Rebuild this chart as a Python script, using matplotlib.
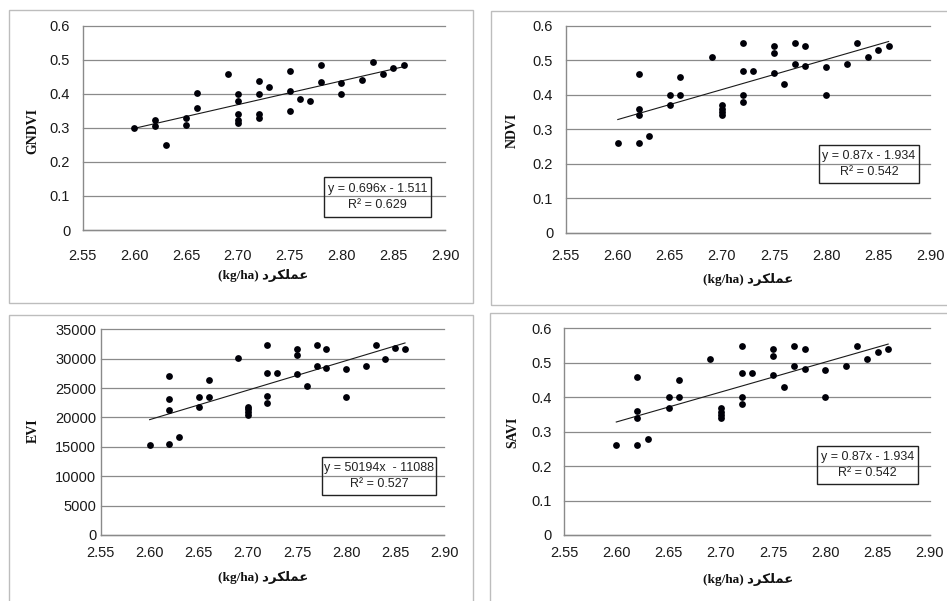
import matplotlib
matplotlib.use('Agg')
import matplotlib.pyplot as plt
from matplotlib.patches import Rectangle
import numpy as np

W, H = 947, 601

# ---------------- data ----------------
x_ticks = [2.55, 2.60, 2.65, 2.70, 2.75, 2.80, 2.85, 2.90]

yield_gndvi = [2.60, 2.62, 2.62, 2.63, 2.65, 2.65, 2.66, 2.66, 2.69,
               2.70, 2.70, 2.70, 2.70, 2.70, 2.72, 2.72, 2.72, 2.72, 2.73,
               2.75, 2.75, 2.75, 2.76, 2.77, 2.78, 2.78, 2.80, 2.80, 2.82,
               2.83, 2.84, 2.85, 2.86]
gndvi = [0.300, 0.323, 0.306, 0.250, 0.329, 0.308, 0.402, 0.358, 0.458,
         0.400, 0.378, 0.340, 0.323, 0.313, 0.438, 0.400, 0.342, 0.328, 0.421,
         0.466, 0.409, 0.349, 0.386, 0.378, 0.486, 0.434, 0.431, 0.400, 0.440,
         0.493, 0.458, 0.476, 0.486]

yield_vi = [2.60, 2.62, 2.62, 2.62, 2.62, 2.63, 2.65, 2.65, 2.66, 2.66,
            2.69, 2.70, 2.70, 2.70, 2.70, 2.72, 2.72, 2.72, 2.72, 2.73,
            2.75, 2.75, 2.75, 2.76, 2.77, 2.77, 2.78, 2.78, 2.80, 2.80,
            2.82, 2.83, 2.84, 2.85, 2.86]
ndvi = [0.26, 0.46, 0.36, 0.34, 0.26, 0.28, 0.40, 0.37, 0.45, 0.40,
        0.51, 0.370, 0.358, 0.349, 0.341, 0.55, 0.47, 0.40, 0.38, 0.47,
        0.54, 0.52, 0.464, 0.43, 0.55, 0.49, 0.54, 0.483, 0.48, 0.40,
        0.49, 0.55, 0.51, 0.53, 0.54]
evi = [15300, 27100, 23100, 21200, 15400, 16600, 23400, 21700, 26400, 23500,
       30100, 21850, 21400, 20950, 20400, 32350, 27600, 23700, 22500, 27600,
       31700, 30600, 27400, 25300, 32350, 28800, 31700, 28500, 28200, 23550,
       28800, 32350, 29950, 31900, 31700]
savi = [0.26, 0.46, 0.36, 0.34, 0.26, 0.28, 0.40, 0.37, 0.45, 0.40,
        0.51, 0.370, 0.358, 0.349, 0.341, 0.55, 0.47, 0.40, 0.38, 0.47,
        0.54, 0.52, 0.464, 0.43, 0.55, 0.49, 0.54, 0.483, 0.48, 0.40,
        0.49, 0.55, 0.51, 0.53, 0.54]

fit_gndvi = (0.696, -1.511)
fit_ndvi = (0.87, -1.934)
fit_evi = (50194, -110880)
fit_savi = (0.87, -1.934)

eq_gndvi = "y = 0.696x - 1.511\nR\u00b2 = 0.629"
eq_ndvi = "y = 0.87x - 1.934\nR\u00b2 = 0.542"
eq_evi = "y = 50194x  - 11088\nR\u00b2 = 0.527"
eq_savi = "y = 0.87x - 1.934\nR\u00b2 = 0.542"

yt_small = [0, 0.1, 0.2, 0.3, 0.4, 0.5, 0.6]
yt_small_lbl = ["0", "0.1", "0.2", "0.3", "0.4", "0.5", "0.6"]
yt_evi = [0, 5000, 10000, 15000, 20000, 25000, 30000, 35000]
yt_evi_lbl = ["0", "5000", "10000", "15000", "20000", "25000", "30000", "35000"]

# x label: "(kg/ha) عملکرد" written in visual (shaped) order
xlabel_txt = "(kg/ha) " + "\uFEA9\uFEAE\uFB91\uFEE0\uFEE4\uFECB"

# ---------------- figure ----------------
fig = plt.figure(figsize=(W / 100, H / 100), dpi=100)
fig.patch.set_facecolor('white')

def fx(x):
    return x / W

def fy(y):
    return 1 - y / H

def frame(l, t, r, b, ec='#bdbdbd', lw=1.0):
    fig.patches.append(Rectangle((fx(l), fy(b)), fx(r) - fx(l), fy(t) - fy(b),
                                 transform=fig.transFigure, fill=False,
                                 ec=ec, lw=lw, zorder=0))

# panel borders
frame(9, 10, 473, 303)
frame(491, 11, 960, 305)
frame(9, 315, 473, 612)
frame(490, 313, 960, 612)

tick_font = ['Liberation Sans', 'DejaVu Sans']
label_font = ['Liberation Serif', 'DejaVu Sans']
eq_font = ['Liberation Sans', 'DejaVu Sans']

def panel(box, xs, ys, fit, yticks, ylbls, ylim, eq, eqbox, ylab, ylab_pos,
          xlab_pos, xpad, ypad, tfont, tsize):
    l, t, r, b = box
    ax = fig.add_axes([fx(l), fy(b), fx(r) - fx(l), fy(t) - fy(b)])
    ax.set_facecolor('white')
    ax.set_xlim(2.55, 2.90)
    ax.set_ylim(*ylim)
    ax.set_xticks(x_ticks)
    ax.set_xticklabels(["%.2f" % v for v in x_ticks], family=tfont, fontsize=tsize,
                       color='#1a1a1a')
    ax.set_yticks(yticks)
    ax.set_yticklabels(ylbls, family=tfont, fontsize=tsize, color='#1a1a1a')
    ax.tick_params(axis='x', length=0, pad=xpad)
    ax.tick_params(axis='y', length=0, pad=ypad)
    for s in ['top', 'right']:
        ax.spines[s].set_visible(False)
    for s in ['left', 'bottom']:
        ax.spines[s].set_color('#8a8a8a')
        ax.spines[s].set_linewidth(1.0)
    ax.yaxis.grid(True, color='#8a8a8a', lw=0.9)
    ax.set_axisbelow(True)
    for gl in ax.yaxis.get_gridlines():
        gl.set_clip_on(False)
    ax.scatter(xs, ys, s=24, color='#000008', zorder=3, linewidths=0)
    xmin, xmax = min(xs), max(xs)
    xx = np.array([xmin, xmax])
    ax.plot(xx, fit[0] * xx + fit[1], color='#1a1a1a', lw=0.8, zorder=2)
    # equation box
    el, et, er, eb = eqbox
    frame(el, et, er, eb, ec='#222222', lw=1.0)
    fig.text(fx((el + er) / 2), fy((et + eb) / 2), eq, ha='center', va='center',
             family=eq_font, fontsize=9, color='#222222', linespacing=1.35)
    # axis titles
    fig.text(fx(ylab_pos[0]), fy(ylab_pos[1]), ylab, rotation=90, ha='center',
             va='center', family=label_font, fontweight='bold', fontsize=10,
             color='#111111')
    fig.text(fx(xlab_pos[0]), fy(xlab_pos[1]), xlabel_txt, ha='center',
             va='center', family=label_font, fontweight='bold', fontsize=9.5,
             color='#111111')
    return ax

panel((82.7, 25.7, 445, 230), yield_gndvi, gndvi, fit_gndvi, yt_small, yt_small_lbl,
      (0, 0.6), eq_gndvi, (324, 177, 431, 217), 'GNDVI', (33, 131), (263, 276),
      14, 9, tick_font, 10.5)
panel((565.7, 25.7, 930.3, 232.7), yield_vi, ndvi, fit_ndvi, yt_small, yt_small_lbl,
      (0, 0.6), eq_ndvi, (819, 145, 919, 183), 'NDVI', (512, 130), (748, 279),
      12, 9, tick_font, 10.5)
panel((100.5, 329.3, 444.3, 535), yield_vi, evi, fit_evi, yt_evi, yt_evi_lbl,
      (0, 35000), eq_evi, (322, 457, 436, 495), 'EVI', (33, 431), (263, 578),
      8, 3, tick_font, 10.5)
panel((564, 328.3, 930, 535), yield_vi, savi, fit_savi, yt_small, yt_small_lbl,
      (0, 0.6), eq_savi, (817, 446, 918, 484), 'SAVI', (513, 432), (748, 580),
      8, 9, tick_font, 10.5)

fig.savefig('out.png', dpi=100, facecolor='white')
